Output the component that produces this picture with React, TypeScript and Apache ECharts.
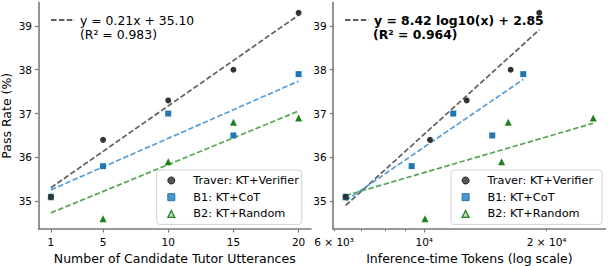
import React, { useEffect, useRef } from 'react';
import * as echarts from 'echarts';

const FONT = 'DejaVu Sans';

const seriesNames = ['Traver: KT+Verifier', 'B1: KT+CoT', 'B2: KT+Random'];
const candidates = [1, 5, 10, 15, 20];
const traverPass = [35.1, 36.4, 37.3, 38.0, 39.3];
const b1Pass = [35.1, 35.8, 37.0, 36.5, 37.9];
const b2Pass = [35.1, 34.6, 35.9, 36.8, 36.9];

const traverTokens = [6408, 10330, 12716, 16313, 19180];
const b1Tokens = [6408, 9311, 11785, 14696, 17520];
const b2Tokens = [6408, 10040, 15490, 16090, 26040];

// fitted trend lines: y = slope * x + intercept
const leftFitSlope = [0.2074, 0.1306, 0.1224];
const leftFitIntercept = [35.1, 35.128, 34.61];
// right panel: y = slope * log10(tokens) + intercept
const rightFitSlope = [8.42, 6.34, 2.709];
const rightFitIntercept = [2.85, 10.876, 24.817];

const leftFitLabel = ['y = 0.21x + 35.10', '(R² = 0.983)'];
const rightFitLabel = ['y = 8.42 log10(x) + 2.85', '(R² = 0.964)'];

const yTicks = [35, 36, 37, 38, 39];
const yRange = [34.365, 39.535];
const leftXTicks = [1, 5, 10, 15, 20];
const leftXRange = [0.05, 20.95];
const tokenRange = [5970, 27925];
const tokenMajorTicks = [10000];
const tokenMinorTicks = [6000, 7000, 8000, 9000, 20000];
const tokenLabelTicks = [6000, 10000, 20000];

const markerColors = ['#333333', '#1f77b4', '#1f801f'];
const lineColors = ['#606060', '#569fd6', '#56a456'];
const symbols = ['circle', 'rect', 'triangle'];
const symbolSizes = [6, 6, 7];

const SUP: Record<string, string> = { '0': '⁰', '1': '¹', '2': '²', '3': '³', '4': '⁴', '5': '⁵', '6': '⁶', '7': '⁷', '8': '⁸', '9': '⁹' };

function tokenLabel(v: number): string {
  const t = Math.round(Math.pow(10, v));
  const e = Math.floor(Math.log10(t) + 1e-9);
  const m = Math.round(t / Math.pow(10, e));
  const sup = String(e).split('').map((c) => SUP[c]).join('');
  return m === 1 ? `10${sup}` : `${m} × 10${sup}`;
}

function fitData(xs: number[], slope: number, intercept: number, tf: (x: number) => number) {
  const lo = tf(Math.min(...xs));
  const hi = tf(Math.max(...xs));
  return [
    [lo, slope * lo + intercept],
    [hi, slope * hi + intercept],
  ];
}

export default function App() {
  const ref = useRef<HTMLDivElement>(null);

  useEffect(() => {
    document.body.style.margin = '0';
    if (!ref.current) return;
    const chart = echarts.init(ref.current, null, { renderer: 'svg' });

    const axisLine = { show: true, lineStyle: { color: '#7a7a7a', width: 1.6 } };
    const tickStyle = { color: '#7a7a7a', width: 1.2 };
    const labelStyle = { color: '#000', fontSize: 10.5, fontFamily: FONT };

    const pass = [traverPass, b1Pass, b2Pass];
    const tokens = [traverTokens, b1Tokens, b2Tokens];
    const id = (x: number) => x;
    const lg = (x: number) => Math.log10(x);

    const series: any[] = [];
    for (let i = 0; i < 3; i++) {
      series.push({
        type: 'line',
        name: i === 0 ? leftFitLabel[0] : `left-fit-${i}`,
        xAxisIndex: 0,
        yAxisIndex: 0,
        data: fitData(candidates, leftFitSlope[i], leftFitIntercept[i], id),
        symbol: 'none',
        lineStyle: { color: lineColors[i], width: 1.7, type: [5.5, 2.4] },
        itemStyle: { color: lineColors[i] },
        z: 2,
        silent: true,
      });
      series.push({
        type: 'line',
        name: i === 0 ? rightFitLabel[0] : `right-fit-${i}`,
        xAxisIndex: 1,
        yAxisIndex: 1,
        data: fitData(tokens[i], rightFitSlope[i], rightFitIntercept[i], lg),
        symbol: 'none',
        lineStyle: { color: lineColors[i], width: 1.7, type: [5.5, 2.4] },
        itemStyle: { color: lineColors[i] },
        z: 2,
        silent: true,
      });
    }
    for (let i = 0; i < 3; i++) {
      series.push({
        type: 'scatter',
        name: seriesNames[i],
        xAxisIndex: 0,
        yAxisIndex: 0,
        data: candidates.map((c, k) => [c, pass[i][k]]),
        symbol: symbols[i],
        symbolSize: symbolSizes[i],
        itemStyle: { color: markerColors[i], opacity: 1 },
        z: 5 - i,
      });
      series.push({
        type: 'scatter',
        name: seriesNames[i],
        xAxisIndex: 1,
        yAxisIndex: 1,
        data: tokens[i].map((t, k) => [Math.log10(t), pass[i][k]]),
        symbol: symbols[i],
        symbolSize: symbolSizes[i],
        itemStyle: { color: markerColors[i], opacity: 1 },
        z: 5 - i,
      });
    }

    const legendIconStyles = [
      { color: '#555555', borderColor: '#222222', borderWidth: 1 },
      { color: '#4f96cc', borderColor: '#1f77b4', borderWidth: 1 },
      { color: '#b9dcb9', borderColor: '#1f801f', borderWidth: 1.2 },
    ];
    const mainLegend = (left: number, padRight: number) => ({
      orient: 'vertical',
      left,
      top: 170,
      padding: [4, padRight, 4, 10.5],
      itemWidth: 7,
      itemHeight: 7,
      itemGap: 3.7,
      backgroundColor: 'rgba(255,255,255,0.85)',
      borderColor: '#d3d3d3',
      borderWidth: 1,
      borderRadius: 3,
      textStyle: { color: '#000', fontSize: 11.3, fontFamily: FONT, lineHeight: 13, padding: [0, 0, 0, 13.5] },
      selectedMode: false,
      data: seriesNames.map((n, i) => ({ name: n, icon: symbols[i], itemStyle: legendIconStyles[i] })),
    });
    const fitLegend = (left: number, name: string, bold: boolean) => ({
      orient: 'vertical',
      left,
      top: 14,
      padding: 0,
      itemWidth: 24,
      itemHeight: 10,
      selectedMode: false,
      textStyle: { color: '#000', fontSize: 12.4, fontFamily: FONT, fontWeight: bold ? 'bold' : 'normal' },
      data: [{ name, itemStyle: { color: 'rgba(0,0,0,0)', borderWidth: 0, opacity: 0 } }],
    });

    chart.setOption({
      animation: false,
      backgroundColor: '#ffffff',
      textStyle: { fontFamily: FONT },
      grid: [
        { left: 38.5, top: 2.5, width: 272.5, height: 226.5, containLabel: false, outerBoundsMode: 'none' },
        { left: 333.2, top: 2.5, width: 272.4, height: 226.5, containLabel: false, outerBoundsMode: 'none' },
      ],
      title: [
        { text: leftFitLabel[1], left: 80, top: 28, padding: 0, textStyle: { color: '#000', fontSize: 12.4, fontWeight: 'normal', fontFamily: FONT } },
        { text: rightFitLabel[1], left: 373, top: 28, padding: 0, textStyle: { color: '#000', fontSize: 12.4, fontWeight: 'bold', fontFamily: FONT } },
      ],
      legend: [
        mainLegend(156.7, 3),
        mainLegend(451, 9),
        fitLegend(50, leftFitLabel[0], false),
        fitLegend(344, rightFitLabel[0], true),
      ],
      xAxis: [
        {
          type: 'value',
          gridIndex: 0,
          position: 'bottom',
          min: leftXRange[0],
          max: leftXRange[1],
          name: 'Number of Candidate Tutor Utterances',
          nameLocation: 'middle',
          nameGap: 21,
          nameTextStyle: { color: '#000', fontSize: 12.5, fontFamily: FONT },
          axisLine,
          axisTick: { show: true, length: 3.5, lineStyle: tickStyle, customValues: leftXTicks },
          axisLabel: { ...labelStyle, margin: 7, customValues: leftXTicks },
          splitLine: { show: false },
        },
        {
          type: 'value',
          gridIndex: 1,
          position: 'bottom',
          min: Math.log10(tokenRange[0]),
          max: Math.log10(tokenRange[1]),
          name: 'Inference-time Tokens (log scale)',
          nameLocation: 'middle',
          nameGap: 21,
          nameTextStyle: { color: '#000', fontSize: 12.5, fontFamily: FONT },
          axisLine,
          axisTick: { show: true, length: 3.5, lineStyle: tickStyle, customValues: tokenMajorTicks.map(lg) },
          axisLabel: { ...labelStyle, margin: 7, customValues: tokenLabelTicks.map(lg), formatter: (v: number) => tokenLabel(v) },
          splitLine: { show: false },
        },
        {
          type: 'value',
          gridIndex: 1,
          position: 'bottom',
          offset: 0,
          min: Math.log10(tokenRange[0]),
          max: Math.log10(tokenRange[1]),
          axisLine: { show: false },
          axisTick: { show: true, length: 2.2, lineStyle: { color: '#7a7a7a', width: 1 }, customValues: tokenMinorTicks.map(lg) },
          axisLabel: { show: false },
          splitLine: { show: false },
        },
      ],
      yAxis: [
        {
          type: 'value',
          gridIndex: 0,
          min: yRange[0],
          max: yRange[1],
          name: 'Pass Rate (%)',
          nameLocation: 'middle',
          nameGap: 26,
          nameTextStyle: { color: '#000', fontSize: 12.5, fontFamily: FONT },
          axisLine,
          axisTick: { show: true, length: 3.5, lineStyle: tickStyle, customValues: yTicks },
          axisLabel: { ...labelStyle, margin: 6.5, customValues: yTicks },
          splitLine: { show: false },
        },
        {
          type: 'value',
          gridIndex: 1,
          min: yRange[0],
          max: yRange[1],
          axisLine,
          axisTick: { show: true, length: 3.5, lineStyle: tickStyle, customValues: yTicks },
          axisLabel: { ...labelStyle, margin: 6.5, customValues: yTicks },
          splitLine: { show: false },
        },
      ],
      series,
    });

    return () => chart.dispose();
  }, []);

  return <div ref={ref} style={{ width: 608, height: 266 }} />;
}
